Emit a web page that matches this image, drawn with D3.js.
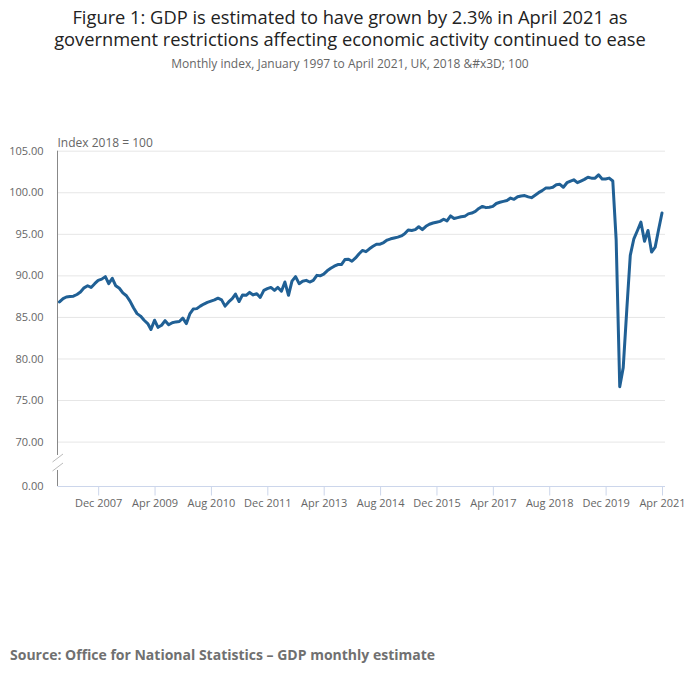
<!DOCTYPE html>
<html>
<head>
<meta charset="utf-8">
<script src="https://cdn.jsdelivr.net/npm/d3@7"></script>
<style>
  body { margin: 0; background: #fff; }
  text { font-family: "Open Sans", sans-serif; }
</style>
</head>
<body>
<div id="chart"></div>
<script>
// Monthly GDP index, Jan 2007 to Apr 2021 (2018 = 100)
let start_month = '2007-01';
let gdp_index = [
  86.8, 87.2, 87.4, 87.45, 87.5, 87.7, 88.0, 88.5, 88.75, 88.55, 89.0, 89.4,
  89.55, 89.85, 89.0, 89.65, 88.75, 88.45, 87.9, 87.55, 86.9, 86.1, 85.4, 85.1,
  84.6, 84.2, 83.5, 84.6, 83.75, 84.0, 84.55, 84.05, 84.3, 84.4, 84.45, 84.85,
  84.2, 85.4, 85.95, 86.0, 86.3, 86.55, 86.75, 86.9, 87.05, 87.25, 87.05, 86.3,
  86.8, 87.2, 87.75, 86.85, 87.65, 87.6, 87.95, 87.65, 87.8, 87.35, 88.2, 88.4,
  88.55, 88.2, 88.55, 88.1, 89.2, 87.6, 89.3, 89.85, 89.0, 89.3, 89.4, 89.2,
  89.4, 90.0, 89.95, 90.15, 90.55, 90.85, 91.1, 91.3, 91.3, 91.9, 91.95, 91.7,
  92.1, 92.6, 93.0, 92.85, 93.2, 93.5, 93.75, 93.75, 93.95, 94.25, 94.4, 94.5,
  94.6, 94.75, 95.0, 95.45, 95.4, 95.5, 95.85, 95.5, 95.9, 96.15, 96.3, 96.4,
  96.5, 96.75, 96.55, 97.15, 96.85, 96.95, 97.05, 97.1, 97.4, 97.5, 97.7, 98.05,
  98.3, 98.15, 98.2, 98.3, 98.65, 98.8, 98.9, 99.0, 99.3, 99.15, 99.45, 99.55,
  99.6, 99.45, 99.35, 99.65, 99.95, 100.2, 100.5, 100.5, 100.6, 100.9, 100.95, 100.6,
  101.15, 101.35, 101.5, 101.15, 101.35, 101.55, 101.8, 101.7, 101.7, 102.1, 101.6, 101.6,
  101.7, 101.35, 94.3, 76.6, 78.9, 85.9, 92.4, 94.4, 95.4, 96.4, 94.1, 95.4,
  92.8, 93.4, 95.4, 97.5
];
let x_ticks = ['2007-12', '2009-04', '2010-08', '2011-12', '2013-04', '2014-08',
               '2015-12', '2017-04', '2018-08', '2019-12', '2021-04'];
let y_ticks = [0, 70, 75, 80, 85, 90, 95, 100, 105];

let title_lines = [
  'Figure 1: GDP is estimated to have grown by 2.3% in April 2021 as',
  'government restrictions affecting economic activity continued to ease'
];
let subtitle = 'Monthly index, January 1997 to April 2021, UK, 2018 &#x3D; 100';
let y_title = 'Index 2018 = 100';
let source = 'Source: Office for National Statistics \u2013 GDP monthly estimate';

let chart_width = 700;
let chart_height = 682;

let parse_month = d3.timeParse('%Y-%m');
let first = parse_month(start_month);
let data = gdp_index.map(function(v, i) {
    return { date: d3.timeMonth.offset(first, i), value: v };
});

let svg = d3.select('#chart')
    .append('svg')
    .attr('width', chart_width)
    .attr('height', chart_height);

// Title (one text, two lines)
svg.append('text')
    .attr('x', 350)
    .attr('y', 24)
    .attr('text-anchor', 'middle')
    .attr('font-size', 18.3)
    .attr('fill', '#222')
    .selectAll('tspan')
    .data(title_lines)
    .enter()
    .append('tspan')
    .attr('x', 350)
    .attr('dy', function(d, i) { return i === 0 ? 0 : 22; })
    .text(function(d) { return d; });

svg.append('text')
    .attr('x', 350)
    .attr('y', 68)
    .attr('text-anchor', 'middle')
    .attr('font-size', 12)
    .attr('fill', '#666')
    .text(subtitle);

let plot_left = 57.5;
let plot_right = 665;

let x_scale = d3.scaleTime()
    .domain([first, data[data.length - 1].date])
    .range([59.5, 662]);

// broken axis: 0 sits just under 70
let y_scale = d3.scaleLinear()
    .domain([0, 70, 105])
    .range([486, 441.6, 150.7]);

// Grid lines
svg.selectAll('.grid')
    .data(y_ticks.filter(function(d) { return d > 0; }))
    .enter()
    .append('line')
    .attr('x1', plot_left)
    .attr('x2', plot_right)
    .attr('y1', function(d) { return y_scale(d) + 0.5; })
    .attr('y2', function(d) { return y_scale(d) + 0.5; })
    .attr('stroke', '#e6e6e6')
    .attr('stroke-width', 1);

// Y axis labels
let y_axis = d3.axisLeft(y_scale)
    .tickValues(y_ticks)
    .tickFormat(d3.format('.2f'))
    .tickSize(0)
    .tickPadding(14);

svg.append('g')
    .attr('transform', 'translate(' + plot_left + ',0)')
    .call(y_axis)
    .call(function(g) { g.select('.domain').remove(); })
    .call(function(g) {
        g.selectAll('text')
            .attr('font-family', '"Open Sans", sans-serif')
            .attr('font-size', 11)
            .attr('fill', '#666');
    });

// Y axis line with a break
svg.append('line')
    .attr('x1', plot_left).attr('x2', plot_left)
    .attr('y1', y_scale(105)).attr('y2', 455)
    .attr('stroke', '#888');
svg.append('line')
    .attr('x1', plot_left).attr('x2', plot_left)
    .attr('y1', 470).attr('y2', y_scale(0))
    .attr('stroke', '#888');
[454, 463].forEach(function(y0) {
    svg.append('line')
        .attr('x1', plot_left + 5.5).attr('y1', y0)
        .attr('x2', plot_left - 5).attr('y2', y0 + 8)
        .attr('stroke', '#bbb')
        .attr('stroke-width', 1);
});

// X axis
let x_axis = d3.axisBottom(x_scale)
    .tickValues(x_ticks.map(parse_month))
    .tickFormat(d3.timeFormat('%b %Y'))
    .tickSize(9)
    .tickPadding(4)
    .tickSizeOuter(0);

svg.append('g')
    .attr('transform', 'translate(0,' + (y_scale(0) + 0.5) + ')')
    .call(x_axis)
    .call(function(g) {
        g.select('.domain')
            .attr('d', 'M' + plot_left + ',0H' + plot_right)
            .attr('stroke', '#ccd6eb');
        g.selectAll('.tick line').attr('stroke', '#ccd6eb');
        g.selectAll('text')
            .attr('font-family', '"Open Sans", sans-serif')
            .attr('font-size', 11)
            .attr('fill', '#666');
    });

svg.append('text')
    .attr('x', plot_left)
    .attr('y', 147)
    .attr('font-size', 12)
    .attr('fill', '#666')
    .text(y_title);

// Line
let line = d3.line()
    .x(function(d) { return x_scale(d.date); })
    .y(function(d) { return y_scale(d.value); });

svg.append('path')
    .datum(data)
    .attr('d', line)
    .attr('fill', 'none')
    .attr('stroke', '#206095')
    .attr('stroke-width', 3)
    .attr('stroke-linejoin', 'round')
    .attr('stroke-linecap', 'round');

// Source
svg.append('text')
    .attr('x', 10)
    .attr('y', 660)
    .attr('font-size', 14)
    .attr('font-weight', 'bold')
    .attr('fill', '#707070')
    .text(source);
</script>
</body>
</html>
